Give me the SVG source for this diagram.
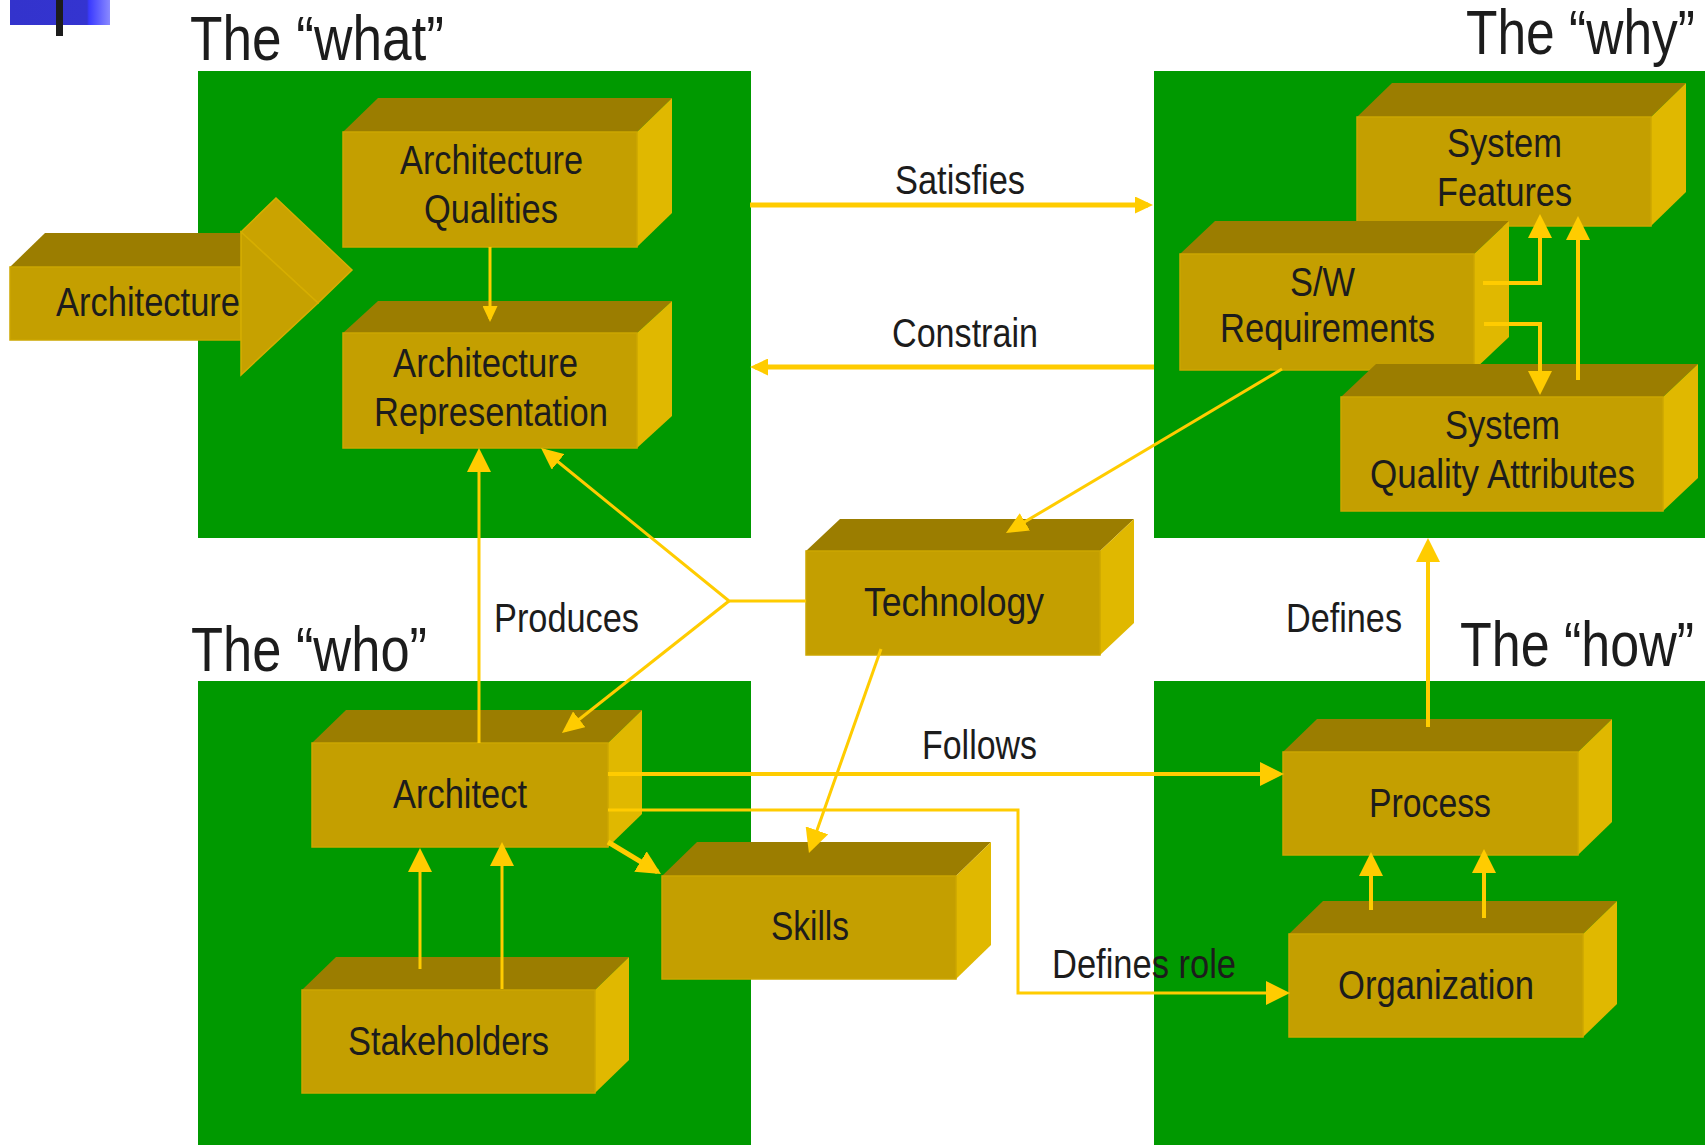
<svg xmlns="http://www.w3.org/2000/svg" width="1705" height="1145" viewBox="0 0 1705 1145">
<style>
.bg{fill:#ffffff}
.zone{fill:#009900}
.front{fill:#C49F00;stroke:#CCA600;stroke-width:1.5}
.top{fill:#9B7D00}
.side{fill:#E0B800}
.txt{font-family:"Liberation Sans",Arial,sans-serif;font-size:40px;fill:#1c1c1c}
.title{font-family:"Liberation Sans",Arial,sans-serif;font-size:63px;fill:#1c1c1c}
.c{fill:none;stroke:#FFCC00;stroke-linejoin:miter}
.w3{stroke-width:3}
.w4{stroke-width:4}
.w5{stroke-width:5}
</style>
<defs>
<linearGradient id="blue" x1="0" y1="0" x2="1" y2="0">
<stop offset="0" stop-color="#3333CC"/>
<stop offset="0.77" stop-color="#3434D0"/>
<stop offset="0.79" stop-color="#3A3AFF"/>
<stop offset="1" stop-color="#8A8AFF"/>
</linearGradient>
<marker id="a" viewBox="0 0 24 24" refX="20" refY="12" markerWidth="24" markerHeight="24" markerUnits="userSpaceOnUse" orient="auto"><path d="M0,0 L24,12 L0,24 z" fill="#FFCC00"/></marker>
<marker id="m" viewBox="0 0 22 20" refX="18" refY="10" markerWidth="22" markerHeight="20" markerUnits="userSpaceOnUse" orient="auto"><path d="M0,0 L22,10 L0,20 z" fill="#FFCC00"/></marker>
<marker id="s" viewBox="0 0 18 17" refX="13" refY="8.5" markerWidth="18" markerHeight="17" markerUnits="userSpaceOnUse" orient="auto"><path d="M0,0 L18,8.5 L0,17 z" fill="#FFCC00"/></marker>
<marker id="t" viewBox="0 0 16 15" refX="13" refY="7.5" markerWidth="16" markerHeight="15" markerUnits="userSpaceOnUse" orient="auto"><path d="M0,0 L16,7.5 L0,15 z" fill="#FFCC00"/></marker>
</defs>
<rect class="bg" x="0" y="0" width="1705" height="1145"/>

<g id="decor">
<rect x="10" y="0" width="100" height="25" fill="url(#blue)"/>
<rect x="56" y="0" width="7" height="36" fill="#1c1c1c"/>
</g>

<g id="zones">
<rect id="zone-what" class="zone" x="198" y="71" width="553" height="467"/>
<rect id="zone-why" class="zone" x="1154" y="71" width="551" height="467"/>
<rect id="zone-who" class="zone" x="198" y="681" width="553" height="464"/>
<rect id="zone-how" class="zone" x="1154" y="681" width="551" height="464"/>
</g>

<g id="titles">
<text class="title" x="190" y="60" textLength="254" lengthAdjust="spacingAndGlyphs">The “what”</text>
<text class="title" x="1466" y="54" textLength="229" lengthAdjust="spacingAndGlyphs">The “why”</text>
<text class="title" x="191" y="671" textLength="236" lengthAdjust="spacingAndGlyphs">The “who”</text>
<text class="title" x="1460" y="666" textLength="234" lengthAdjust="spacingAndGlyphs">The “how”</text>
</g>

<g id="node-architecture">
<polygon class="top" points="10,267 45,233 241,233 241,267"/>
<rect class="front" x="10" y="267" width="231" height="73"/>
<polygon points="241,232 276,198 352,270 318,303" fill="#CAA300" stroke="#D6AE00" stroke-width="1.5"/>
<polygon points="241,232 318,303 241,375" fill="#C6A100" stroke="#D6AE00" stroke-width="1.5"/>
<text class="txt" x="56" y="316" textLength="184" lengthAdjust="spacingAndGlyphs">Architecture</text>
</g>

<g id="node-arch-qualities">
<polygon class="top" points="343,132 378,98 672,98 637,132"/>
<polygon class="side" points="637,132 672,98 672,213 637,247"/>
<rect class="front" x="343" y="132" width="294" height="115"/>
<text class="txt" x="400" y="174" textLength="183" lengthAdjust="spacingAndGlyphs">Architecture</text>
<text class="txt" x="424" y="223" textLength="134" lengthAdjust="spacingAndGlyphs">Qualities</text>
</g>

<g id="node-arch-representation">
<polygon class="top" points="343,333 378,301 672,301 637,333"/>
<polygon class="side" points="637,333 672,301 672,416 637,448"/>
<rect class="front" x="343" y="333" width="294" height="115"/>
<text class="txt" x="393" y="377" textLength="185" lengthAdjust="spacingAndGlyphs">Architecture</text>
<text class="txt" x="374" y="426" textLength="234" lengthAdjust="spacingAndGlyphs">Representation</text>
</g>

<g id="node-system-features">
<polygon class="top" points="1357,117 1392,83 1686,83 1651,117"/>
<polygon class="side" points="1651,117 1686,83 1686,192 1651,226"/>
<rect class="front" x="1357" y="117" width="294" height="109"/>
<text class="txt" x="1447" y="157" textLength="115" lengthAdjust="spacingAndGlyphs">System</text>
<text class="txt" x="1437" y="206" textLength="135" lengthAdjust="spacingAndGlyphs">Features</text>
</g>

<g id="node-sw-requirements">
<polygon class="top" points="1180,254 1215,221 1509,221 1474,254"/>
<polygon class="side" points="1474,254 1509,221 1509,337 1474,370"/>
<rect class="front" x="1180" y="254" width="294" height="116"/>
<text class="txt" x="1290" y="296" textLength="65" lengthAdjust="spacingAndGlyphs">S/W</text>
<text class="txt" x="1220" y="342" textLength="215" lengthAdjust="spacingAndGlyphs">Requirements</text>
</g>

<g id="node-system-quality">
<polygon class="top" points="1341,397 1376,364 1698,364 1663,397"/>
<polygon class="side" points="1663,397 1698,364 1698,478 1663,511"/>
<rect class="front" x="1341" y="397" width="322" height="114"/>
<text class="txt" x="1445" y="439" textLength="115" lengthAdjust="spacingAndGlyphs">System</text>
<text class="txt" x="1370" y="488" textLength="265" lengthAdjust="spacingAndGlyphs">Quality Attributes</text>
</g>

<g id="node-technology">
<polygon class="top" points="806,551 840,519 1134,519 1100,551"/>
<polygon class="side" points="1100,551 1134,519 1134,623 1100,655"/>
<rect class="front" x="806" y="551" width="294" height="104"/>
<text class="txt" x="864" y="616" textLength="180" lengthAdjust="spacingAndGlyphs">Technology</text>
</g>

<g id="node-architect">
<polygon class="top" points="312,743 346,710 642,710 608,743"/>
<polygon class="side" points="608,743 642,710 642,814 608,847"/>
<rect class="front" x="312" y="743" width="296" height="104"/>
<text class="txt" x="393" y="808" textLength="134" lengthAdjust="spacingAndGlyphs">Architect</text>
</g>

<g id="node-skills">
<polygon class="top" points="662,876 697,842 991,842 956,876"/>
<polygon class="side" points="956,876 991,842 991,945 956,979"/>
<rect class="front" x="662" y="876" width="294" height="103"/>
<text class="txt" x="771" y="940" textLength="78" lengthAdjust="spacingAndGlyphs">Skills</text>
</g>

<g id="node-stakeholders">
<polygon class="top" points="302,990 336,957 629,957 595,990"/>
<polygon class="side" points="595,990 629,957 629,1060 595,1093"/>
<rect class="front" x="302" y="990" width="293" height="103"/>
<text class="txt" x="348" y="1055" textLength="201" lengthAdjust="spacingAndGlyphs">Stakeholders</text>
</g>

<g id="node-process">
<polygon class="top" points="1283,752 1317,719 1612,719 1578,752"/>
<polygon class="side" points="1578,752 1612,719 1612,822 1578,855"/>
<rect class="front" x="1283" y="752" width="295" height="103"/>
<text class="txt" x="1369" y="817" textLength="122" lengthAdjust="spacingAndGlyphs">Process</text>
</g>

<g id="node-organization">
<polygon class="top" points="1289,934 1323,901 1617,901 1583,934"/>
<polygon class="side" points="1583,934 1617,901 1617,1004 1583,1037"/>
<rect class="front" x="1289" y="934" width="294" height="103"/>
<text class="txt" x="1338" y="999" textLength="196" lengthAdjust="spacingAndGlyphs">Organization</text>
</g>

<g id="connectors">
<line class="c w3" x1="490" y1="247" x2="490" y2="319" marker-end="url(#t)"/>
<line class="c w5" x1="750" y1="205" x2="1148" y2="205" marker-end="url(#s)"/>
<line class="c w5" x1="1154" y1="367" x2="755" y2="367" marker-end="url(#s)"/>
<path class="c w4" d="M1483,283 H1540 V218" marker-end="url(#a)"/>
<path class="c w4" d="M1484,324 H1540 V391" marker-end="url(#a)"/>
<line class="c w4" x1="1578" y1="380" x2="1578" y2="220" marker-end="url(#a)"/>
<line class="c w3" x1="1282" y1="369" x2="1009.4" y2="531" marker-end="url(#m)"/>
<path class="c w3" d="M806,601 H729 L544.1,450.5" marker-end="url(#m)"/>
<line class="c w3" x1="729" y1="601" x2="565.1" y2="730.5" marker-end="url(#m)"/>
<line class="c w3" x1="479" y1="743" x2="479" y2="452" marker-end="url(#a)"/>
<line class="c w4" x1="608" y1="774" x2="1280" y2="774" marker-end="url(#a)"/>
<path class="c w3" d="M608,810 H1018 V993 H1286" marker-end="url(#a)"/>
<line class="c w5" x1="608" y1="842" x2="657.6" y2="871.9" marker-end="url(#a)"/>
<line class="c w3" x1="881" y1="649" x2="810.3" y2="849.2" marker-end="url(#a)"/>
<line class="c w3" x1="420" y1="969" x2="420" y2="852" marker-end="url(#a)"/>
<line class="c w3" x1="502" y1="989" x2="502" y2="846" marker-end="url(#a)"/>
<line class="c w4" x1="1428" y1="727" x2="1428" y2="542" marker-end="url(#a)"/>
<line class="c w4" x1="1371" y1="910" x2="1371" y2="856" marker-end="url(#a)"/>
<line class="c w4" x1="1484" y1="918" x2="1484" y2="853" marker-end="url(#a)"/>
</g>

<g id="labels">
<text class="txt" x="895" y="194" textLength="130" lengthAdjust="spacingAndGlyphs">Satisfies</text>
<text class="txt" x="892" y="347" textLength="146" lengthAdjust="spacingAndGlyphs">Constrain</text>
<text class="txt" x="494" y="632" textLength="145" lengthAdjust="spacingAndGlyphs">Produces</text>
<text class="txt" x="922" y="759" textLength="115" lengthAdjust="spacingAndGlyphs">Follows</text>
<text class="txt" x="1286" y="632" textLength="116" lengthAdjust="spacingAndGlyphs">Defines</text>
<text class="txt" x="1052" y="978" textLength="184" lengthAdjust="spacingAndGlyphs">Defines role</text>
</g>
</svg>
